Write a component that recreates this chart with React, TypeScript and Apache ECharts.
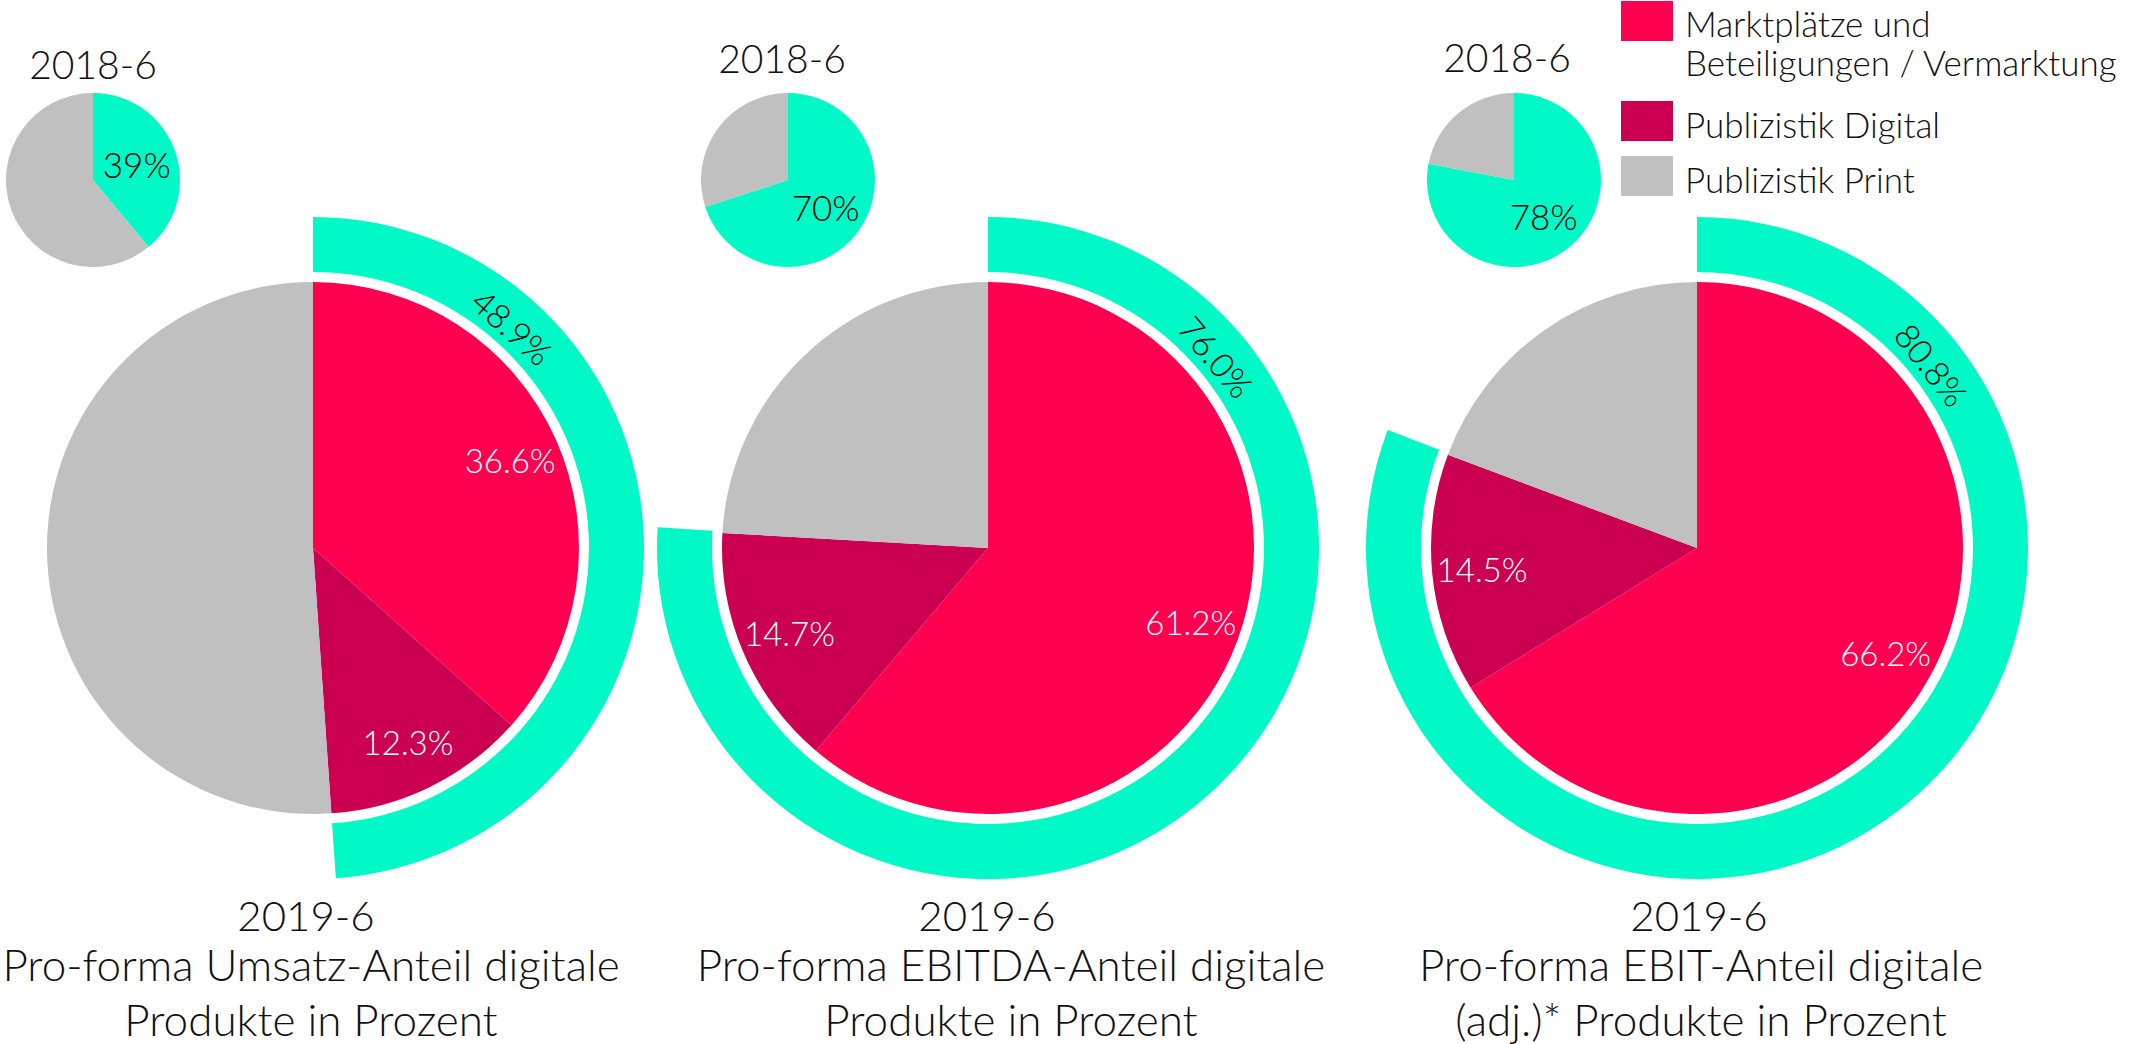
import React, { useEffect, useRef } from "react";
import * as echarts from "echarts";

// ---- data ----
const categories = [
  "Marktplätze und Beteiligungen / Vermarktung",
  "Publizistik Digital",
  "Publizistik Print",
];
const legendLines = [["Marktplätze und", "Beteiligungen / Vermarktung"], ["Publizistik Digital"], ["Publizistik Print"]];
const marktplaetze2019 = [36.6, 61.2, 66.2];
const publizistikDigital2019 = [12.3, 14.7, 14.5];
const publizistikPrint2019 = [51.1, 24.1, 19.3];
const digitalTotal2019 = [48.9, 76.0, 80.8];
const digital2018 = [39, 70, 78];
const print2018 = [61, 30, 22];
const periodOld = "2018-6";
const periodNew = "2019-6";
const panelTitles = [
  ["Pro-forma Umsatz-Anteil digitale", "Produkte in Prozent"],
  ["Pro-forma EBITDA-Anteil digitale", "Produkte in Prozent"],
  ["Pro-forma EBIT-Anteil digitale", "(adj.)* Produkte in Prozent"],
];

// ---- style / layout ----
const RED = "#FF0050";
const DARK = "#CC0050";
const GREY = "#C0C0C0";
const TEAL = "#00F9C7";
const catColors = [RED, DARK, GREY];
const FONT = "Lato";
const W = 300;

const bigCX = [313, 988, 1697];
const bigCY = 548;
const smallC = [[93, 180], [788, 180], [1514, 180]];
const oldLabelPos = [[93, 64], [782, 58], [1507, 57]];
const line1X = [306, 987, 1699];
const line23X = [311, 1011, 1701];
const titleY = [915, 964, 1019];
const ringLabelAngle = [42, 50, 52];
const ringLabelR = 298;

function buildOption() {
  const series: any[] = [];
  const graphic: any[] = [];
  for (let i = 0; i < 3; i++) {
    const center = [bigCX[i], bigCY];
    const vals = [marktplaetze2019[i], publizistikDigital2019[i], publizistikPrint2019[i]];
    // main pie
    series.push({
      type: "pie",
      center,
      radius: [0, 266],
      startAngle: 90,
      clockwise: true,
      silent: true,
      label: { show: false },
      labelLine: { show: false },
      itemStyle: { borderWidth: 0 },
      data: vals.map((v, k) => ({ name: categories[k], value: v, itemStyle: { color: catColors[k] } })),
    });
    // label helper (labels at ~0.8 r)
    series.push({
      type: "pie",
      center,
      radius: [160, 266],
      startAngle: 90,
      clockwise: true,
      silent: true,
      labelLine: { show: false },
      itemStyle: { color: "rgba(0,0,0,0)", borderWidth: 0 },
      label: {
        show: true,
        position: "inside",
        color: "#ffffff",
        fontFamily: FONT,
        fontWeight: W,
        fontSize: 33,
        formatter: (p: any) => p.value.toFixed(1) + "%",
      },
      data: vals.map((v, k) => ({
        name: categories[k],
        value: v,
        label: { show: k < 2 },
      })),
    });
    // digital ring
    series.push({
      type: "pie",
      center,
      radius: [276, 331],
      startAngle: 90,
      clockwise: true,
      silent: true,
      label: { show: false },
      labelLine: { show: false },
      itemStyle: { borderWidth: 0 },
      data: [
        { name: "digital", value: digitalTotal2019[i], itemStyle: { color: TEAL } },
        { name: "rest", value: 100 - digitalTotal2019[i], itemStyle: { color: "rgba(0,0,0,0)" } },
      ],
    });
    // small 2018 pie
    series.push({
      type: "pie",
      center: smallC[i],
      radius: [0, 87],
      startAngle: 90,
      clockwise: true,
      silent: true,
      labelLine: { show: false },
      itemStyle: { borderWidth: 0 },
      label: {
        show: true,
        position: "inside",
        color: "#000000",
        fontFamily: FONT,
        fontWeight: W,
        fontSize: 35,
        formatter: (p: any) => p.value + "%",
      },
      data: [
        { name: "digital", value: digital2018[i], itemStyle: { color: TEAL } },
        { name: "print", value: print2018[i], itemStyle: { color: GREY }, label: { show: false } },
      ],
    });

    // ring label
    const a = (ringLabelAngle[i] * Math.PI) / 180;
    graphic.push({
      type: "text",
      z: 100,
      x: bigCX[i] + ringLabelR * Math.sin(a),
      y: bigCY - ringLabelR * Math.cos(a),
      rotation: -a,
      silent: true,
      style: {
        text: digitalTotal2019[i].toFixed(1) + "%",
        fill: "#000000",
        fontFamily: FONT,
        fontWeight: W,
        fontSize: 34,
        align: "center",
        verticalAlign: "middle",
      },
    });
    // 2018-6 label
    graphic.push({
      type: "text",
      z: 100,
      x: oldLabelPos[i][0],
      y: oldLabelPos[i][1],
      silent: true,
      style: {
        text: periodOld,
        fill: "#111111",
        fontFamily: FONT,
        fontWeight: W,
        fontSize: 39,
        align: "center",
        verticalAlign: "middle",
      },
    });
    // bottom titles
    const lines = [periodNew, panelTitles[i][0], panelTitles[i][1]];
    lines.forEach((t, k) => {
      const fs = k === 0 ? 42 : 44;
      graphic.push({
        type: "text",
        z: 100,
        x: k === 0 ? line1X[i] : line23X[i],
        y: titleY[k],
        silent: true,
        style: {
          text: t,
          fill: "#111111",
          fontFamily: FONT,
          fontWeight: W,
          fontSize: fs,
          lineHeight: fs,
          align: "center",
          verticalAlign: "middle",
        },
      });
    });
  }

  // legend
  const rectY = [1, 101, 156];
  const textY = [[23, 62], [124], [179]];
  for (let k = 0; k < 3; k++) {
    graphic.push({
      type: "rect",
      z: 100,
      silent: true,
      shape: { x: 1621, y: rectY[k], width: 52, height: 40 },
      style: { fill: catColors[k] },
    });
    legendLines[k].forEach((t, j) => {
      graphic.push({
        type: "text",
        z: 100,
        x: 1685,
        y: textY[k][j],
        silent: true,
        style: {
          text: t,
          fill: "#111111",
          fontFamily: FONT,
          fontWeight: W,
          fontSize: 35,
          lineHeight: 35,
          align: "left",
          verticalAlign: "middle",
        },
      });
    });
  }

  return {
    animation: false,
    backgroundColor: "#ffffff",
    series,
    graphic,
  };
}

export default function App() {
  const ref = useRef<HTMLDivElement>(null);
  useEffect(() => {
    document.body.style.margin = "0";
    const chart = echarts.init(ref.current!, null, { renderer: "svg" });
    chart.setOption(buildOption());
    return () => chart.dispose();
  }, []);
  return <div ref={ref} style={{ width: 2131, height: 1044 }} />;
}
